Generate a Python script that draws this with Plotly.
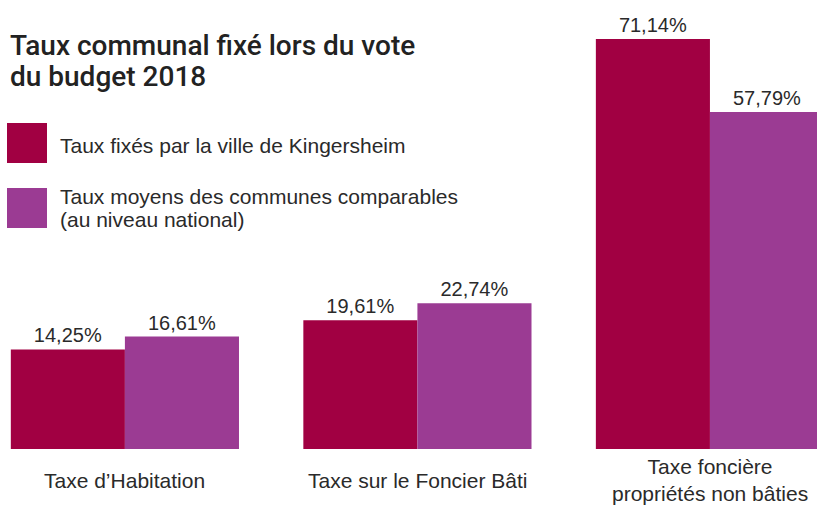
import plotly.graph_objects as go

categories = ["Taxe d’Habitation", "Taxe sur le Foncier Bâti", "Taxe foncière<br>propriétés non bâties"]
kingersheim = [14.25, 19.61, 71.14]
national = [16.61, 22.74, 57.79]
series_names = ["Taux fixés par la ville de Kingersheim",
                "Taux moyens des communes comparables<br>(au niveau national)"]
title_text = "Taux communal fixé lors du vote<br>du budget 2018"

C1 = "#A10042"
C2 = "#9B3B93"
TXT = "#2a2a2a"
FONT = "Liberation Sans, Arial, sans-serif"

W, H = 817, 506
MB = 57
PH = H - MB
BASE = -4.0
K = 5.455

def fmt(v):
    return f"{v:.2f}".replace(".", ",") + "%"

fig = go.Figure()
for vals, col, name in [(kingersheim, C1, series_names[0]), (national, C2, series_names[1])]:
    fig.add_trace(go.Bar(
        x=list(range(len(categories))), y=[v - BASE for v in vals], base=BASE,
        name=name.replace("<br>", " "), marker=dict(color=col, line=dict(width=0)),
        text=[fmt(v) for v in vals], textposition="outside", cliponaxis=False,
        textfont=dict(family=FONT, size=20, color=TXT), showlegend=False,
        hoverinfo="skip",
    ))

annotations = []
for j, ln in enumerate(title_text.split("<br>")):
    cy = 45 + 32 * j
    annotations.append(dict(text=ln, xref="paper", yref="paper", x=8/W, y=(PH-cy)/PH,
                            xanchor="left", yanchor="middle", showarrow=False, align="left",
                            font=dict(family="Roboto, Liberation Sans, sans-serif", size=28,
                                      color="#222222", weight=500)))

# legend
shapes = []
leg_tops = [123, 188]
for i, (col, name) in enumerate([(C1, series_names[0]), (C2, series_names[1])]):
    top = leg_tops[i]
    shapes.append(dict(type="rect", xref="paper", yref="paper", x0=7/W, x1=47/W,
                       y0=(PH-top-40)/PH, y1=(PH-top)/PH, fillcolor=col, line=dict(width=0)))
    lines = name.split("<br>")
    for j, ln in enumerate(lines):
        cy = (top + 22) if len(lines) == 1 else (top + 8 + 23 * j)
        annotations.append(dict(text=ln, xref="paper", yref="paper", x=58/W, y=(PH-cy)/PH,
                                xanchor="left", yanchor="middle", showarrow=False,
                                font=dict(family=FONT, size=21, color=TXT)))

for i, cat in enumerate(categories):
    annotations.append(dict(text=cat, x=i, xref="x", yref="paper", y=0, yshift=-31,
                            xanchor="center", yanchor="middle", showarrow=False,
                            font=dict(family=FONT, size=21, color=TXT)))

fig.update_layout(
    width=W, height=H, margin=dict(l=0, r=0, t=0, b=MB),
    paper_bgcolor="white", plot_bgcolor="white",
    barmode="group", bargap=0.22, bargroupgap=0,
    xaxis=dict(range=[-0.427, 2.366], visible=False, fixedrange=True),
    yaxis=dict(range=[BASE, BASE + PH / K], visible=False, fixedrange=True),
    annotations=annotations, shapes=shapes,
)

fig.write_html("out.html", config={"displayModeBar": False},
               post_script="document.body.style.margin='0';document.body.style.overflow='hidden';")
